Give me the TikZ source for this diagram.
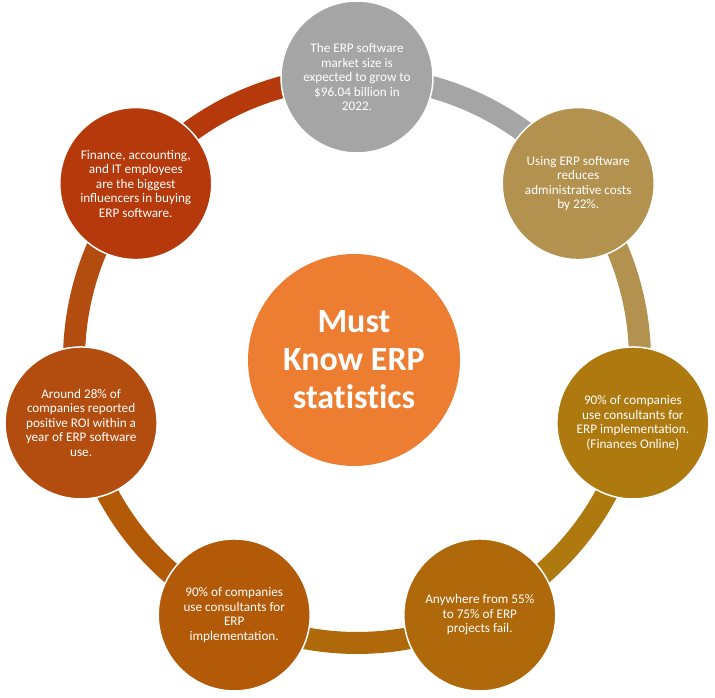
\documentclass[tikz,border=0pt]{standalone}
\usepackage{fontspec}
\setmainfont{Carlito}
\pgfdeclarelayer{background}
\pgfsetlayers{background,main}
\definecolor{cgray}{HTML}{A5A5A5}
\definecolor{ctan}{HTML}{B39250}
\definecolor{cgold}{HTML}{AE7A10}
\definecolor{cbr}{HTML}{B0690A}
\definecolor{cbl}{HTML}{B35A08}
\definecolor{cleft}{HTML}{B34D0F}
\definecolor{cul}{HTML}{B5390A}
\definecolor{ccenter}{HTML}{ED7D31}
\tikzset{
  stat/.style={circle, fill=#1, draw=white, line width=1.5pt, minimum size=152pt, inner sep=0pt,
    text=white, align=center, font=\fontsize{13.2}{14.5}\selectfont},
  hub/.style={circle, fill=ccenter, minimum size=212pt, inner sep=0pt, text=white, align=center,
    font=\fontsize{34}{38}\selectfont\bfseries\addfontfeatures{Ligatures=NoCommon}},
  seg/.style={line width=22pt, draw=#1}
}
\begin{document}
\begin{tikzpicture}
\useasboundingbox (-357pt,-338pt) rectangle (358pt,360pt);
\node[hub] (hub) at (-3pt,0pt) {Must\\Know ERP\\statistics};
\node[stat=cgray] (c0) at (90:283pt) {The ERP software\\market size is\\expected to grow to\\\$96.04 billion in\\2022.};
\node[stat=ctan] (c1) at (38.571:283pt) {Using ERP software\\reduces\\administrative costs\\by 22\%.};
\node[stat=cgold] (c2) at (-12.857:283pt) {90\% of companies\\use consultants for\\ERP implementation.\\(Finances Online)};
\node[stat=cbr] (c3) at (-64.286:283pt) {Anywhere from 55\%\\to 75\% of ERP\\projects fail.};
\node[stat=cbl] (c4) at (-115.714:283pt) {90\% of companies\\use consultants for\\ERP\\implementation.};
\node[stat=cleft] (c5) at (-167.143:283pt) {Around 28\% of\\companies reported\\positive ROI within a\\year of ERP software\\use.};
\node[stat=cul] (c6) at (141.429:283pt) {Finance, accounting,\\and IT employees\\are the biggest\\influencers in buying\\ERP software.};
\begin{pgfonlayer}{background}
\draw[seg=cgray] (c0.center) arc[start angle=90, end angle=38.571, radius=283pt];
\draw[seg=ctan] (c1.center) arc[start angle=38.571, end angle=-12.857, radius=283pt];
\draw[seg=cgold] (c2.center) arc[start angle=-12.857, end angle=-64.286, radius=283pt];
\draw[seg=cbr] (c3.center) arc[start angle=-64.286, end angle=-115.714, radius=283pt];
\draw[seg=cbl] (c4.center) arc[start angle=-115.714, end angle=-167.143, radius=283pt];
\draw[seg=cleft] (c5.center) arc[start angle=-167.143, end angle=-218.571, radius=283pt];
\draw[seg=cul] (c6.center) arc[start angle=141.429, end angle=90, radius=283pt];
\end{pgfonlayer}
\end{tikzpicture}
\end{document}
